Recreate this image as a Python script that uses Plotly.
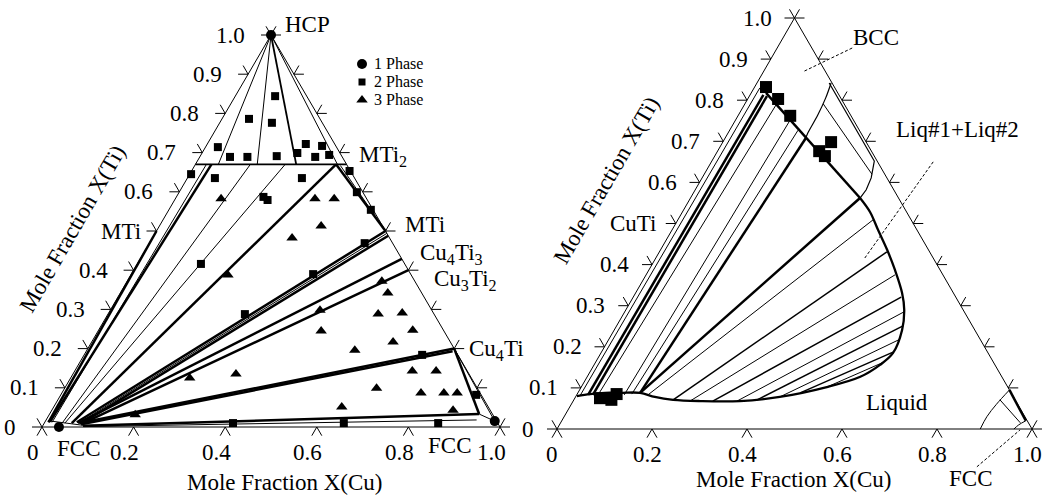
import numpy as np
import plotly.graph_objects as go

FONT = "Liberation Serif, Times New Roman, serif"
W, H = 1045, 498

# pixel placement of the two composition triangles (layout, not data)
LBOX = dict(x0=42, base=427, sx=458, sy=392)
RBOX = dict(x0=557, base=429, sx=475, sy=411)

# ================= LEFT DIAGRAM  (X(Cu), X(Ti)) =================
left_one_phase = [(0.0, 1.0), (0.037, 0.0), (0.981, 0.015)]
left_two_phase = [
    (0.027, 0.714), (0.066, 0.689), (0.104, 0.689), (0.059, 0.786), (0.114, 0.776),
    (0.087, 0.844), (0.167, 0.691), (0.208, 0.699), (0.215, 0.722), (0.252, 0.689),
    (0.253, 0.717), (0.280, 0.694), (0.003, 0.645), (0.060, 0.635), (0.190, 0.587),
    (0.203, 0.579), (0.250, 0.635), (0.345, 0.653), (0.388, 0.599), (0.441, 0.554),
    (0.470, 0.469), (0.397, 0.390), (0.299, 0.288), (0.139, 0.416), (0.412, 0.010),
    (0.654, 0.010), (0.738, 0.184), (0.907, 0.082), (0.860, 0.010)]
left_three_phase = [
    (0.100, 0.582), (0.305, 0.582), (0.347, 0.582), (0.353, 0.513), (0.305, 0.482),
    (0.212, 0.388), (0.458, 0.298), (0.487, 0.245), (0.260, 0.125), (0.356, 0.135),
    (0.188, 0.031), (0.629, 0.051), (0.556, 0.372), (0.584, 0.342), (0.590, 0.288),
    (0.641, 0.291), (0.686, 0.247), (0.585, 0.196), (0.658, 0.217), (0.737, 0.143),
    (0.789, 0.143), (0.681, 0.099), (0.784, 0.087), (0.834, 0.087), (0.863, 0.087),
    (0.876, 0.043)]

left_thin_lines = [
    ((0.0, 1.0), (0.05, 0.67)), ((0.0, 1.0), (0.135, 0.67)), ((0.0, 1.0), (0.31, 0.67)),
    ((0.016, 0.012), (0.024, 0.67)),
    ((0.039, 0.010), (0.120, 0.67)),
    ((0.045, 0.010), (0.196, 0.67)),
    ((0.075, 0.010), (0.506, 0.494)),
    ((0.318, 0.667), (0.503, 0.497)),
    ((0.090, 0.001), (0.940, 0.018)),
    ((0.005, 0.016), (0.090, 0.004)),
    ((0.800, 0.200), (0.981, 0.015)),
    ((0.938, 0.033), (0.981, 0.015)),
]
left_medium_lines = [
    ((0.0, 0.67), (0.33, 0.67)),
    ((0.0, 1.0), (0.22, 0.67)),
]
left_thick_lines = [
    ((0.008, 0.012), (0.0, 0.50)),
    ((0.011, 0.013), (0.035, 0.67)),
    ((0.060, 0.010), (0.307, 0.67)),
    ((0.307, 0.670), (0.500, 0.50)),
    ((0.070, 0.012), (0.500, 0.50)),
    ((0.080, 0.008), (0.512, 0.488)),
    ((0.074, 0.010), (0.571, 0.429)),
    ((0.085, 0.010), (0.600, 0.400)),
    ((0.078, 0.010), (0.800, 0.200)),
    ((0.082, 0.007), (0.800, 0.193)),
    ((0.088, 0.003), (0.938, 0.033)),
    ((0.800, 0.200), (0.938, 0.033)),
]
left_ti_ticks = [0.0, 0.1, 0.2, 0.3, 0.4, 0.5, 0.6, 0.7, 0.8, 0.9, 1.0]
left_ti_labels = ["0", "0.1", "0.2", "0.3", "0.4", "MTi", "0.6", "0.7", "0.8", "0.9", "1.0"]
cu_ticks = [0.0, 0.2, 0.4, 0.6, 0.8, 1.0]
cu_labels = ["0", "0.2", "0.4", "0.6", "0.8", "1.0"]
legend_names = ["1 Phase", "2 Phase", "3 Phase"]

# ================= RIGHT DIAGRAM  (X(Cu), X(Ti)) =================
right_two_phase = [
    (0.024, 0.832), (0.064, 0.803), (0.110, 0.762), (0.214, 0.676), (0.232, 0.664),
    (0.228, 0.698), (0.053, 0.075), (0.079, 0.071), (0.083, 0.085)]

right_thick_lines = [
    ((0.024, 0.083), (0.028, 0.813)),
    ((0.034, 0.083), (0.037, 0.810)),
    ((0.131, 0.088), (0.170, 0.708)),
    ((0.031, 0.818), (0.357, 0.562)),
    ((0.357, 0.562), (0.131, 0.088)),
    ((0.905, 0.095), (0.977, 0.020)),
]
right_thin_lines = [
    ((0.008, 0.082), (0.012, 0.830)),
    ((0.045, 0.083), (0.067, 0.793)),
    ((0.100, 0.083), (0.115, 0.752)),
    ((0.115, 0.085), (0.144, 0.727)),
    ((0.165, 0.791), (0.353, 0.620)),
    ((0.897, 0.071), (0.968, 0.015)),
]
# tie lines of the liquid miscibility gap (alternating weights)
right_tie_thin = [
    ((0.150, 0.083), (0.411, 0.509)), ((0.246, 0.068), (0.524, 0.375)),
    ((0.345, 0.068), (0.588, 0.285)), ((0.430, 0.078), (0.611, 0.217)),
    ((0.517, 0.102), (0.604, 0.161))]
right_tie_medium = [
    ((0.209, 0.071), (0.479, 0.431)), ((0.294, 0.068), (0.564, 0.321)),
    ((0.386, 0.071), (0.603, 0.251)), ((0.468, 0.088), (0.614, 0.187))]

liquid_boundary = [
    (0.002, 0.080), (0.027, 0.085), (0.057, 0.088), (0.089, 0.088), (0.131, 0.088),
    (0.167, 0.078), (0.209, 0.071), (0.267, 0.068), (0.351, 0.068), (0.430, 0.078),
    (0.517, 0.102), (0.575, 0.127), (0.602, 0.156), (0.615, 0.185), (0.606, 0.241),
    (0.586, 0.290), (0.561, 0.331), (0.518, 0.387), (0.477, 0.436), (0.434, 0.484),
    (0.395, 0.528), (0.357, 0.562)]
gap_upper_boundary = [(0.357, 0.562), (0.360, 0.582), (0.356, 0.611), (0.342, 0.652),
                      (0.152, 0.842)]
bcc_boundary = [(0.156, 0.842), (0.163, 0.805), (0.167, 0.764), (0.168, 0.720), (0.170, 0.708)]
fcc_boundary = [(0.891, 0.0), (0.890, 0.030), (0.895, 0.060), (0.905, 0.095)]
fcc_corner = [(0.962, 0.0), (0.967, 0.010), (0.977, 0.020)]

bcc_leader = [(0.158, 0.927), (0.083, 0.869)]
liq_leader = [(0.467, 0.650), (0.440, 0.416)]
fcc_leader = [(0.930, -0.092), (0.976, -0.002)]

right_ti_labels = ["0", "0.1", "0.2", "0.3", "0.4", "CuTi", "0.6", "0.7", "0.8", "0.9", "1.0"]


# ================= helpers =================
def cart(pts):
    return [c + t / 2 for c, t in pts], [t for c, t in pts]


def segs_xy(segs):
    xs, ys = [], []
    for a, b in segs:
        x, y = cart([a, b])
        xs += x + [None]
        ys += y + [None]
    return xs, ys


def tick_xy(box, edge, vals, L=10.0):
    arms = {"bottom": (240, 300), "left": (180, 120), "right": (0, 60)}[edge]
    xs, ys = [], []
    for t in vals:
        if edge == "bottom":
            X, Y = t, 0.0
        elif edge == "left":
            X, Y = t / 2, t
        else:
            X, Y = 1 - t / 2, t
        for a in arms:
            r = np.radians(a)
            xs += [X, X + L * np.cos(r) / box["sx"], None]
            ys += [Y, Y + L * np.sin(r) / box["sy"], None]
    return xs, ys


def pix_to_left(px, py):
    return (px - LBOX["x0"]) / LBOX["sx"], (LBOX["base"] - py) / LBOX["sy"]


fig = go.Figure()


def add_lines(xy, ax, width, dash=None, shape="linear"):
    xs, ys = xy
    fig.add_trace(go.Scatter(x=xs, y=ys, mode="lines", xaxis=ax[0], yaxis=ax[1],
                             line=dict(color="black", width=width, dash=dash, shape=shape),
                             hoverinfo="skip", showlegend=False))


def add_markers(xs, ys, ax, symbol, size):
    fig.add_trace(go.Scatter(x=xs, y=ys, mode="markers", xaxis=ax[0], yaxis=ax[1],
                             marker=dict(symbol=symbol, size=size, color="black"),
                             showlegend=False, hoverinfo="skip"))


LA = ("x", "y")
RA = ("x2", "y2")
outline = [(0, 0), (1, 0), (0, 1), (0, 0)]

for ax, box in ((LA, LBOX), (RA, RBOX)):
    add_lines(cart(outline), ax, 1.0)
    add_lines(tick_xy(box, "bottom", cu_ticks), ax, 1.0)
    add_lines(tick_xy(box, "left", left_ti_ticks), ax, 1.0)
    add_lines(tick_xy(box, "right", left_ti_ticks), ax, 1.0)

# left diagram lines
add_lines(segs_xy(left_thin_lines), LA, 1.0)
add_lines(segs_xy(left_medium_lines), LA, 1.8)
add_lines(segs_xy(left_thick_lines), LA, 2.5)

# right diagram lines
add_lines(segs_xy(right_thin_lines), RA, 1.0)
add_lines(segs_xy(right_thick_lines), RA, 2.5)
add_lines(segs_xy(right_tie_thin), RA, 1.0)
add_lines(segs_xy(right_tie_medium), RA, 1.5)
add_lines(cart(liquid_boundary), RA, 2.3, shape="spline")
add_lines(cart(gap_upper_boundary), RA, 1.2)
add_lines(cart(bcc_boundary), RA, 1.2, shape="spline")
add_lines(cart(fcc_boundary), RA, 1.0, shape="spline")
add_lines(cart(fcc_corner), RA, 1.0, shape="spline")
for ld in (bcc_leader, liq_leader, fcc_leader):
    add_lines(cart(ld), RA, 1.0, dash="3px,2px")

# markers
symbols = ["circle", "square", "triangle-up"]
sizes = [10, 8, 10]
for pts, sym, sz in zip((left_one_phase, left_two_phase, left_three_phase), symbols, sizes):
    add_markers(*cart(pts), LA, sym, sz)
add_markers(*cart(right_two_phase), RA, "square", 12)

# hand-drawn legend (symbol + text), placed in pixels
legend_rows_py = [64, 82, 100]
for py, sym, sz in zip(legend_rows_py, symbols, [10, 7, 10]):
    lx, ly = pix_to_left(362, py)
    add_markers([lx], [ly], LA, sym, sz)

# ================= text =================
ann = []
F23 = dict(family=FONT, size=23, color="black")


def label(text, x, y, ref, **kw):
    d = dict(text=text, x=x, y=y, xref=ref[0], yref=ref[1], showarrow=False, font=F23,
             xanchor="center", yanchor="middle")
    d.update(kw)
    ann.append(d)


def px_label(text, px, py, **kw):
    label(text, px / W, 1 - py / H, ("paper", "paper"), **kw)


for ref, labs, numshift, wshift, bshift in ((LA, left_ti_labels, -24, -14, -9),
                                             (RA, right_ti_labels, -21, -18, -5)):
    for t, s in zip(left_ti_ticks, labs):
        sh = numshift if s[0].isdigit() else wshift
        label(s, t / 2, t, ref, xanchor="right", xshift=sh)
    for t, s in zip(cu_ticks, cu_labels):
        label(s, t, 0, ref, yshift=-25, xshift=bshift)

for py, name in zip(legend_rows_py, legend_names):
    px_label(name, 372, py - 1, xanchor="left", font=dict(family=FONT, size=16, color="black"))

# left diagram phase labels
px_label("HCP", 283, 25, xanchor="left")
px_label("MTi<sub>2</sub>", 357, 156, xanchor="left")
px_label("MTi", 403, 224, xanchor="left")
px_label("Cu<sub>4</sub>Ti<sub>3</sub>", 418, 254, xanchor="left")
px_label("Cu<sub>3</sub>Ti<sub>2</sub>", 432, 280, xanchor="left")
px_label("Cu<sub>4</sub>Ti", 467, 350, xanchor="left")
px_label("FCC", 78, 448)
px_label("FCC", 449, 445)
px_label("Mole Fraction X(Cu)", 284, 482)
px_label("Mole Fraction X(Ti)", 73, 229, textangle=-60)

# right diagram labels
px_label("BCC", 876, 37)
px_label("Liq#1+Liq#2", 957, 129)
px_label("Liquid", 897, 402)
px_label("FCC", 970, 478)
px_label("Mole Fraction X(Cu)", 793, 479)
px_label("Mole Fraction X(Ti)", 606, 180, textangle=-60)

fig.update_layout(
    width=W, height=H, autosize=False,
    margin=dict(l=0, r=0, t=0, b=0, pad=0),
    paper_bgcolor="white", plot_bgcolor="white",
    showlegend=False,
    annotations=ann,
    xaxis=dict(domain=[0, 1], range=[-LBOX["x0"] / LBOX["sx"], (W - LBOX["x0"]) / LBOX["sx"]],
               visible=False, fixedrange=True),
    yaxis=dict(domain=[0, 1], range=[(LBOX["base"] - H) / LBOX["sy"], LBOX["base"] / LBOX["sy"]],
               visible=False, fixedrange=True),
    xaxis2=dict(domain=[0, 1], overlaying="x", anchor="y2",
                range=[-RBOX["x0"] / RBOX["sx"], (W - RBOX["x0"]) / RBOX["sx"]],
                visible=False, fixedrange=True),
    yaxis2=dict(domain=[0, 1], overlaying="y", anchor="x2",
                range=[(RBOX["base"] - H) / RBOX["sy"], RBOX["base"] / RBOX["sy"]],
                visible=False, fixedrange=True),
)

fig.write_html("out.html")
